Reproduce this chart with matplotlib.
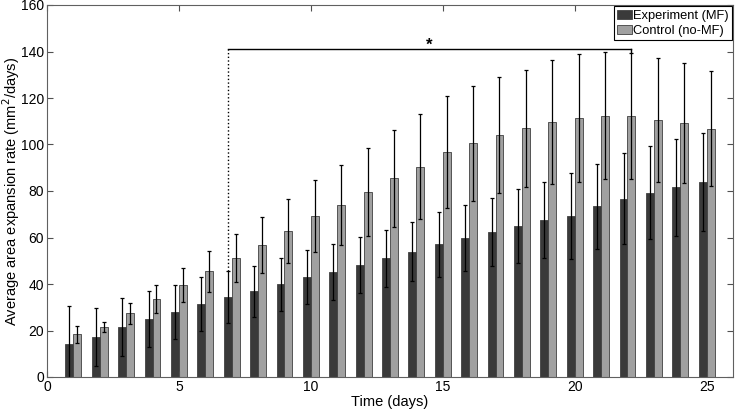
import numpy as np
import matplotlib
matplotlib.use("Agg")
import matplotlib.pyplot as plt

plt.rcParams["font.family"] = ["Liberation Sans", "DejaVu Sans"]

DAYS = np.arange(1, 26)
EXP = [14.4, 17.3, 21.4, 24.8, 28.0, 31.4, 34.4, 36.8, 39.9, 43.0, 45.2, 48.2, 51.0,
       53.8, 57.1, 59.8, 62.4, 64.9, 67.5, 69.2, 73.4, 76.6, 79.3, 81.6, 83.9]
EXP_ERR = [16.0, 12.4, 12.4, 12.0, 11.5, 11.5, 11.0, 11.0, 11.4, 11.5, 11.9, 12.1, 12.2,
           12.7, 13.9, 14.2, 14.7, 15.8, 16.4, 18.5, 18.4, 19.6, 20.1, 20.8, 21.0]
CTL = [18.3, 21.5, 27.4, 33.4, 39.4, 45.4, 51.2, 56.9, 62.8, 69.2, 74.0, 79.6, 85.4,
       90.5, 96.8, 100.6, 104.1, 107.0, 109.7, 111.4, 112.3, 112.3, 110.5, 109.2, 106.8]
CTL_ERR = [3.5, 2.2, 4.4, 6.0, 7.3, 8.9, 10.2, 12.0, 13.6, 15.4, 17.2, 19.0, 20.7,
           22.5, 23.9, 24.7, 24.9, 25.2, 26.5, 27.4, 27.3, 27.2, 26.7, 25.7, 24.8]
SIG_FROM, SIG_TO, SIG_Y = 7, 22, 141  # significance bracket (day range, height)

DARK, LIGHT, EDGE = "#3a3a3a", "#a0a0a0", "#404040"
W = 0.3

fig = plt.figure(figsize=(7.36, 4.16), dpi=100)
ax = fig.add_axes([47 / 736, 39 / 416, 686 / 736, 372 / 416])

ax.bar(DAYS - W / 2, EXP, W, color=DARK, edgecolor=EDGE, lw=0.6, label="Experiment (MF)")
ax.bar(DAYS + W / 2, CTL, W, color=LIGHT, edgecolor=EDGE, lw=0.6, label="Control (no-MF)")
ax.errorbar(DAYS - W / 2, EXP, yerr=EXP_ERR, fmt="none", ecolor="black", elinewidth=0.9,
            capsize=1.5, capthick=0.9)
ax.errorbar(DAYS + W / 2, CTL, yerr=CTL_ERR, fmt="none", ecolor="black", elinewidth=0.9,
            capsize=1.5, capthick=0.9)

# significance bracket
x0 = SIG_FROM - W / 2
x1 = SIG_TO + W / 2
ax.plot([x0, x0], [EXP[SIG_FROM - 1] + EXP_ERR[SIG_FROM - 1], SIG_Y], ls=":", color="black", lw=1)
ax.plot([x0, x1], [SIG_Y, SIG_Y], color="black", lw=1)
ax.plot([x1, x1], [SIG_Y, CTL[SIG_TO - 1] + CTL_ERR[SIG_TO - 1]], color="black", lw=1)
ax.text((x0 + x1) / 2, SIG_Y - 1.5, "*", ha="center", va="bottom", fontsize=12, fontweight="bold")

ax.set_xlim(0, 26)
ax.set_ylim(0, 160)
ax.set_xticks([0, 5, 10, 15, 20, 25])
ax.set_yticks(range(0, 161, 20))
ax.tick_params(direction="in", top=True, right=True, length=4, labelsize=10, pad=2,
               color="#505050")
ax.set_xlabel("Time (days)", fontsize=10.5, labelpad=1)
ax.set_ylabel("Average area expansion rate (mm$^2$/days)", fontsize=10.5)
ax.yaxis.set_label_coords(-0.036, 0.5)
for sp in ax.spines.values():
    sp.set_color("#606060")
    sp.set_linewidth(0.8)

leg = ax.legend(loc="upper right", fontsize=9.3, fancybox=False, framealpha=1,
                edgecolor="black", borderpad=0.25, handlelength=1.1, handletextpad=0.1,
                labelspacing=0.25, borderaxespad=0.1)
leg.get_frame().set_linewidth(0.8)

fig.savefig("out.png", dpi=100)
